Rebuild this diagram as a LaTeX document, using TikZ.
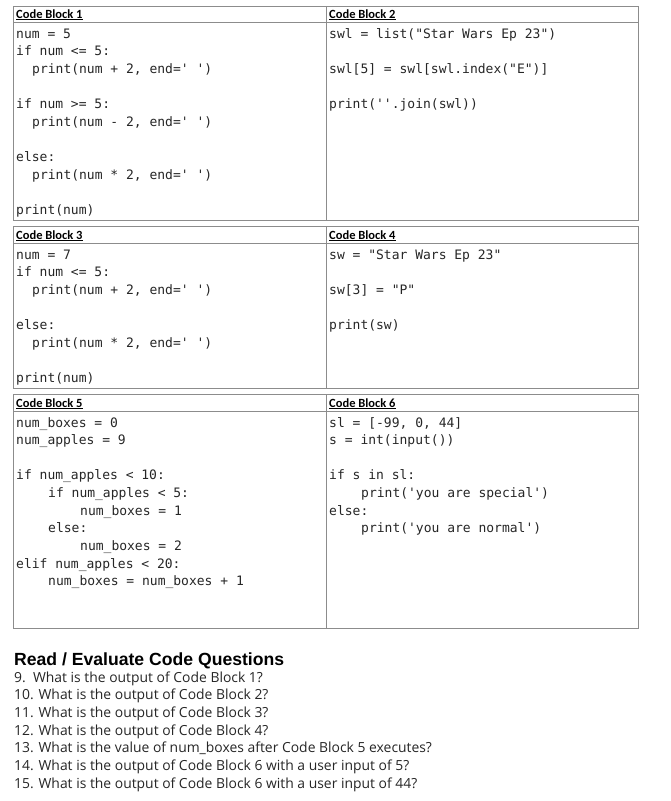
\documentclass[tikz,border=0pt]{standalone}
\usepackage{fontspec}
\setmainfont{Open Sans}
\newfontfamily\codef{DejaVu Sans Mono}
\newfontfamily\hdrf{Carlito}
\newfontfamily\titf{Liberation Sans}
\begin{document}
\begin{tikzpicture}[x=1pt,y=-1pt,
  code/.style={anchor=base west,inner sep=0pt,font=\codef\fontsize{13}{14}\selectfont,text=black!85},
  hdr/.style={anchor=base west,inner sep=0pt,font=\hdrf\bfseries\fontsize{12.5}{13}\selectfont},
  qs/.style={anchor=base west,inner sep=0pt,font=\fontsize{13.9}{15}\selectfont,text=black!85},
  frame/.style={draw=black!45,line width=0.9pt}]
\useasboundingbox (0,0) rectangle (671,801);
\newcommand{\cl}[3]{\node[code] at (#1,#2) {#3};}
\newcommand{\hd}[3]{\node[hdr] at (#1,#2) {\underline{#3}};}
% frames
\foreach \t/\h/\b in {6/22/220, 226/243/388, 394/411/628}{
  \draw[frame] (13,\t) rectangle (638,\b);
  \draw[frame] (13,\h) -- (638,\h);
  \draw[frame] (326,\t) -- (326,\b);
}
\hd{16}{18}{Code Block 1}
\hd{329}{18}{Code Block 2}
\hd{16}{239}{Code Block 3}
\hd{329}{239}{Code Block 4}
\hd{16}{407}{Code Block 5}
\hd{329}{407}{Code Block 6}
% block 1
\cl{16}{38}{num = 5}
\cl{16}{55.65}{if num <= 5:}
\cl{32}{73.3}{print(num + 2, end=' ')}
\cl{16}{108.6}{if num >= 5:}
\cl{32}{126.25}{print(num - 2, end=' ')}
\cl{16}{161.55}{else:}
\cl{32}{179.2}{print(num * 2, end=' ')}
\cl{16}{214.5}{print(num)}
% block 2
\cl{329}{38}{swl = list("Star Wars Ep 23")}
\cl{329}{73.3}{swl[5] = swl[swl.index("E")]}
\cl{329}{108.6}{print(''.join(swl))}
% block 3
\cl{16}{259}{num = 7}
\cl{16}{276.65}{if num <= 5:}
\cl{32}{294.3}{print(num + 2, end=' ')}
\cl{16}{329.6}{else:}
\cl{32}{347.25}{print(num * 2, end=' ')}
\cl{16}{382.55}{print(num)}
% block 4
\cl{329}{259}{sw = "Star Wars Ep 23"}
\cl{329}{294.3}{sw[3] = "P"}
\cl{329}{329.6}{print(sw)}
% block 5
\cl{16}{427}{num\_boxes = 0}
\cl{16}{444.65}{num\_apples = 9}
\cl{16}{479.95}{if num\_apples < 10:}
\cl{48}{497.6}{if num\_apples < 5:}
\cl{80}{515.25}{num\_boxes = 1}
\cl{48}{532.9}{else:}
\cl{80}{550.55}{num\_boxes = 2}
\cl{16}{568.2}{elif num\_apples < 20:}
\cl{48}{585.85}{num\_boxes = num\_boxes + 1}
% block 6
\cl{329}{427}{sl = [-99, 0, 44]}
\cl{329}{444.65}{s = int(input())}
\cl{329}{479.95}{if s in sl:}
\cl{361}{497.6}{print('you are special')}
\cl{329}{515.25}{else:}
\cl{361}{532.9}{print('you are normal')}
% questions
\node[anchor=base west,inner sep=0pt,font=\titf\bfseries\fontsize{17.6}{19}\selectfont] (title) at (14,665) {Read / Evaluate Code Questions};
\node[qs] (q9) at (14,682) {9.\ \ What is the output of Code Block 1?};
\node[qs] (q10) at (14,699.7) {10. What is the output of Code Block 2?};
\node[qs] (q11) at (14,717.4) {11. What is the output of Code Block 3?};
\node[qs] (q12) at (14,735.1) {12. What is the output of Code Block 4?};
\node[qs] (q13) at (14,752.8) {13. What is the value of num\_boxes after Code Block 5 executes?};
\node[qs] (q14) at (14,770.5) {14. What is the output of Code Block 6 with a user input of 5?};
\node[qs] (q15) at (14,788.2) {15. What is the output of Code Block 6 with a user input of 44?};
\end{tikzpicture}
\end{document}
